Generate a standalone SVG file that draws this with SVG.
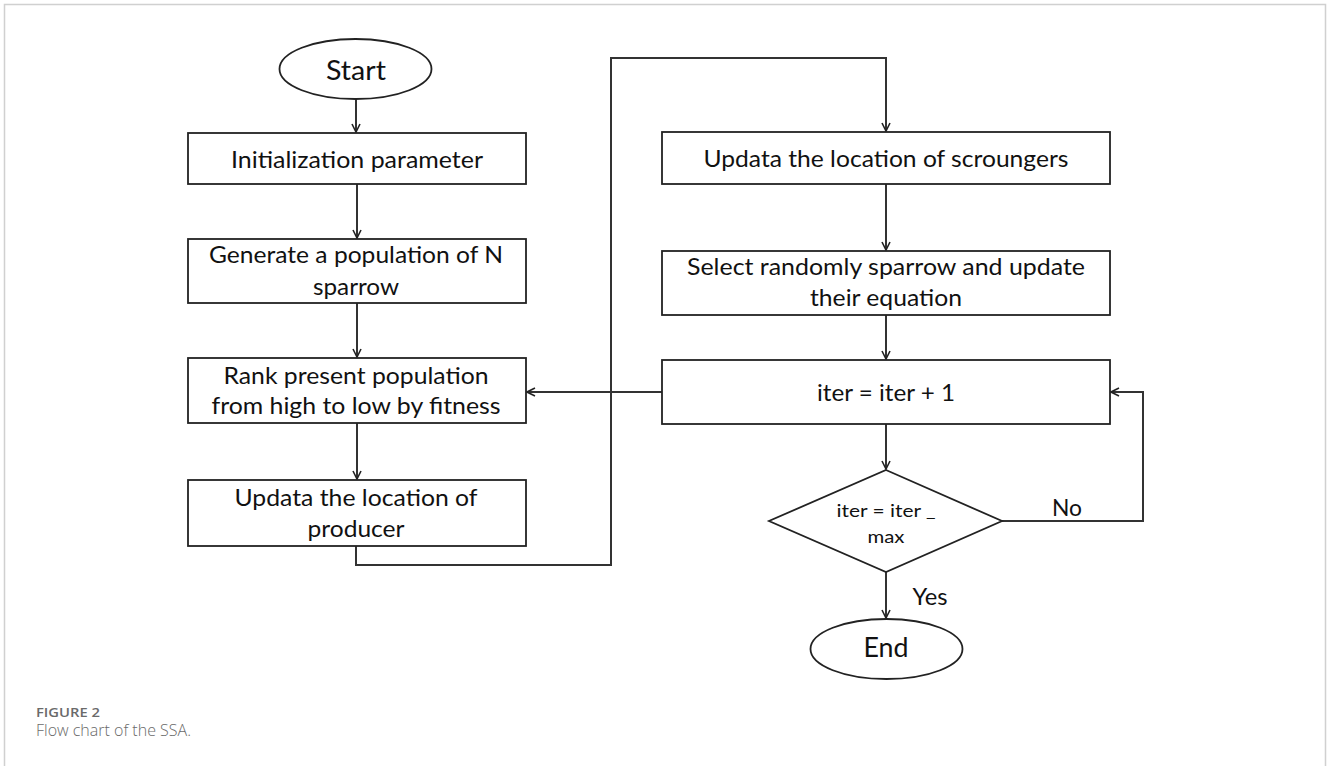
<svg xmlns="http://www.w3.org/2000/svg" width="1328" height="766" viewBox="0 0 1328 766">
<style>
.box{fill:#fff;stroke:#222;stroke-width:1.8}
.t{font-family:Lato,"Open Sans","Liberation Sans",sans-serif;font-size:22.5px;fill:#111;text-anchor:middle}
.big{font-size:27px}
.sm{font-size:18px}
.c{fill:none;stroke:#333;stroke-width:2}
</style>
<defs>
<marker id="arr" viewBox="0 0 10 10" refX="9" refY="5" markerWidth="10" markerHeight="10" markerUnits="userSpaceOnUse" orient="auto">
<path d="M1,1 L9,5 L1,9" fill="none" stroke="#222" stroke-width="1.6"/>
</marker>
</defs>
<rect x="0" y="0" width="1328" height="766" fill="#fff"/>
<path d="M4.5,770 V4.5 H1325.5 V770" fill="none" stroke="#d0d0d0" stroke-width="1.5"/>

<g id="connectors">
<path class="c" d="M356,99 V132" marker-end="url(#arr)"/>
<path class="c" d="M357,184 V238" marker-end="url(#arr)"/>
<path class="c" d="M357,303 V357" marker-end="url(#arr)"/>
<path class="c" d="M357,423 V479" marker-end="url(#arr)"/>
<path class="c" d="M356,546 V565 H611 V58 H886 V131" marker-end="url(#arr)"/>
<path class="c" d="M886,184 V250" marker-end="url(#arr)"/>
<path class="c" d="M886,315 V359" marker-end="url(#arr)"/>
<path class="c" d="M662,392 H527" marker-end="url(#arr)"/>
<path class="c" d="M886,424 V469" marker-end="url(#arr)"/>
<path class="c" d="M1002,521 H1143 V392 H1111" marker-end="url(#arr)"/>
<path class="c" d="M886,572 V618" marker-end="url(#arr)"/>
</g>

<g id="start">
<ellipse cx="355.5" cy="69" rx="76" ry="30" class="box"/>
<text x="356" y="80" class="t big" textLength="60" lengthAdjust="spacingAndGlyphs">Start</text>
</g>
<g id="init">
<rect x="188" y="133" width="338" height="51" class="box"/>
<text x="357" y="168" class="t" textLength="252" lengthAdjust="spacingAndGlyphs">Initialization parameter</text>
</g>
<g id="generate">
<rect x="188" y="239" width="338" height="64" class="box"/>
<text x="356" y="263" class="t" textLength="294" lengthAdjust="spacingAndGlyphs">Generate a population of N</text>
<text x="356" y="295" class="t" textLength="86" lengthAdjust="spacingAndGlyphs">sparrow</text>
</g>
<g id="rank">
<rect x="188" y="358" width="338" height="65" class="box"/>
<text x="356" y="384" class="t" textLength="265" lengthAdjust="spacingAndGlyphs">Rank present population</text>
<text x="356" y="414" class="t" textLength="289" lengthAdjust="spacingAndGlyphs">from high to low by fitness</text>
</g>
<g id="producer">
<rect x="188" y="480" width="338" height="66" class="box"/>
<text x="356" y="506" class="t" textLength="243" lengthAdjust="spacingAndGlyphs">Updata the location of</text>
<text x="356" y="537" class="t" textLength="97" lengthAdjust="spacingAndGlyphs">producer</text>
</g>
<g id="scroungers">
<rect x="662" y="132" width="448" height="52" class="box"/>
<text x="886" y="167" class="t" textLength="365" lengthAdjust="spacingAndGlyphs">Updata the location of scroungers</text>
</g>
<g id="select">
<rect x="662" y="251" width="448" height="64" class="box"/>
<text x="886" y="275" class="t" textLength="398" lengthAdjust="spacingAndGlyphs">Select randomly sparrow and update</text>
<text x="886" y="306" class="t" textLength="152" lengthAdjust="spacingAndGlyphs">their equation</text>
</g>
<g id="iter">
<rect x="662" y="360" width="448" height="64" class="box"/>
<text x="886" y="401" class="t" textLength="138" lengthAdjust="spacingAndGlyphs">iter = iter + 1</text>
</g>
<g id="decision">
<polygon points="886,470 1002,521 886,572 769,521" class="box"/>
<text x="886" y="517" class="t sm" textLength="99" lengthAdjust="spacingAndGlyphs">iter = iter _</text>
<text x="886" y="543" class="t sm" textLength="37" lengthAdjust="spacingAndGlyphs">max</text>
</g>
<g id="end">
<ellipse cx="886.5" cy="649" rx="76" ry="30" class="box"/>
<text x="886" y="657" class="t big" textLength="45" lengthAdjust="spacingAndGlyphs">End</text>
</g>
<g id="labels">
<text x="1067" y="516" class="t" textLength="30" lengthAdjust="spacingAndGlyphs">No</text>
<text x="930" y="605" class="t" textLength="35" lengthAdjust="spacingAndGlyphs">Yes</text>
</g>
<g id="caption">
<text x="36" y="717" font-family="'Open Sans',Lato,sans-serif" font-size="13" font-weight="600" fill="#6a6a6a" textLength="64" lengthAdjust="spacingAndGlyphs">FIGURE 2</text>
<text x="36" y="736" font-family="'Open Sans',Lato,sans-serif" font-size="16" font-weight="300" fill="#6a6a6a">Flow chart of the SSA.</text>
</g>
</svg>
